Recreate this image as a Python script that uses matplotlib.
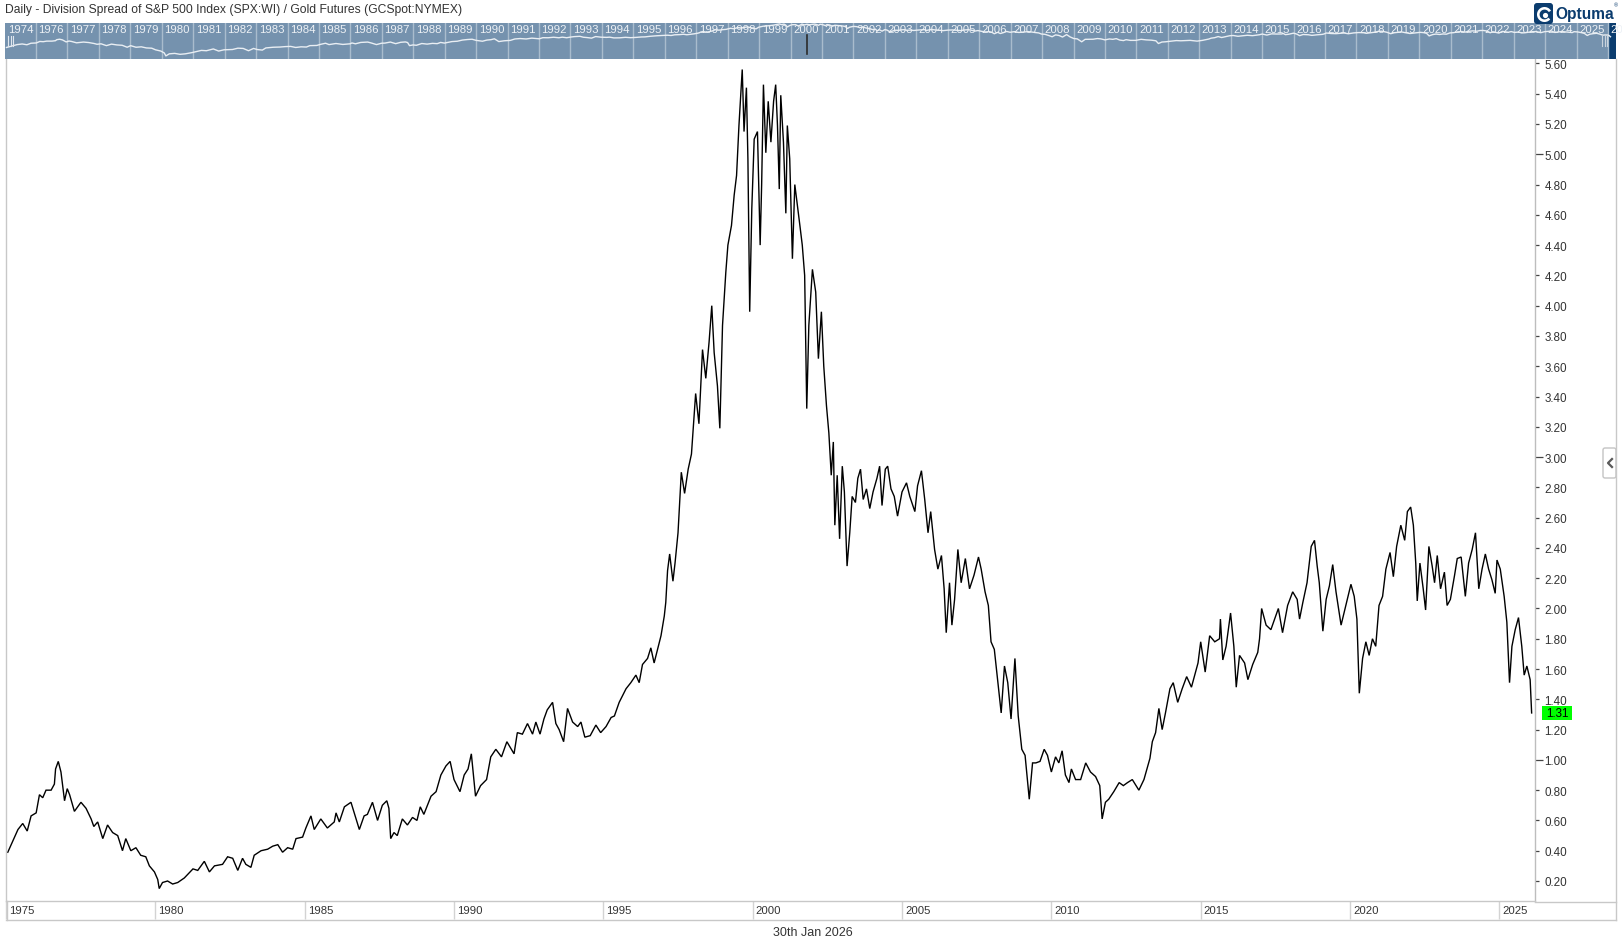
import matplotlib
matplotlib.use("Agg")
import matplotlib.pyplot as plt
from matplotlib.patches import Rectangle, FancyBboxPatch, Wedge, Circle
from matplotlib.lines import Line2D
import matplotlib.transforms as mtransforms

W, H = 1622, 953
plt.rcParams['font.family'] = ['Liberation Sans', 'DejaVu Sans']

title = "Daily - Division Spread of S&P 500 Index (SPX:WI) / Gold Futures (GCSpot:NYMEX)"
date_label = "30th Jan 2026"
last_value = 1.31

# ---- data: (decimal year, SPX / Gold ratio) ----
years = [
    1975.06, 1975.40, 1975.56, 1975.71, 1975.84, 1976.01, 1976.12, 1976.23, 1976.34, 1976.51,
    1976.62, 1976.66, 1976.75, 1976.84, 1976.96, 1977.05, 1977.13, 1977.29, 1977.51, 1977.68,
    1977.85, 1977.94, 1978.07, 1978.24, 1978.40, 1978.57, 1978.74, 1978.90, 1979.01, 1979.18,
    1979.35, 1979.51, 1979.68, 1979.80, 1979.97, 1980.08, 1980.13, 1980.24, 1980.41, 1980.58,
    1980.75, 1980.97, 1981.26, 1981.42, 1981.64, 1981.81, 1981.98, 1982.25, 1982.42, 1982.59,
    1982.76, 1982.92, 1983.03, 1983.20, 1983.31, 1983.54, 1983.76, 1983.93, 1984.10, 1984.26,
    1984.43, 1984.60, 1984.71, 1984.93, 1985.04, 1985.21, 1985.32, 1985.54, 1985.76, 1985.99,
    1986.05, 1986.16, 1986.33, 1986.55, 1986.66, 1986.83, 1986.99, 1987.10, 1987.27, 1987.44,
    1987.60, 1987.75, 1987.82, 1987.88, 1987.99, 1988.10, 1988.27, 1988.44, 1988.61, 1988.76,
    1988.87, 1988.99, 1989.23, 1989.40, 1989.56, 1989.73, 1989.87, 1990.00, 1990.20, 1990.34,
    1990.47, 1990.58, 1990.72, 1990.89, 1991.09, 1991.23, 1991.40, 1991.59, 1991.77, 1992.01,
    1992.12, 1992.29, 1992.46, 1992.63, 1992.74, 1992.88, 1993.01, 1993.12, 1993.30, 1993.41,
    1993.52, 1993.67, 1993.80, 1993.97, 1994.14, 1994.25, 1994.38, 1994.56, 1994.75, 1994.91,
    1995.09, 1995.26, 1995.37, 1995.53, 1995.76, 1995.92, 1996.09, 1996.20, 1996.31, 1996.48,
    1996.59, 1996.70, 1996.79, 1996.93, 1997.04, 1997.09, 1997.15, 1997.22, 1997.33, 1997.40,
    1997.50, 1997.61, 1997.72, 1997.84, 1997.95, 1998.00, 1998.09, 1998.20, 1998.32, 1998.43,
    1998.54, 1998.63, 1998.71, 1998.82, 1998.90, 1998.99, 1999.10, 1999.17, 1999.29, 1999.38,
    1999.46, 1999.54, 1999.65, 1999.71, 1999.79, 1999.84, 1999.90, 1999.97, 2000.05, 2000.16,
    2000.25, 2000.30, 2000.36, 2000.44, 2000.52, 2000.61, 2000.70, 2000.77, 2000.83, 2000.89,
    2000.94, 2001.03, 2001.11, 2001.16, 2001.24, 2001.33, 2001.41, 2001.50, 2001.58, 2001.66,
    2001.74, 2001.81, 2001.88, 2002.00, 2002.11, 2002.20, 2002.30, 2002.38, 2002.47, 2002.55,
    2002.63, 2002.70, 2002.75, 2002.83, 2002.91, 2003.00, 2003.07, 2003.16, 2003.25, 2003.33,
    2003.44, 2003.52, 2003.61, 2003.70, 2003.81, 2003.92, 2004.03, 2004.16, 2004.25, 2004.33,
    2004.44, 2004.52, 2004.63, 2004.74, 2004.85, 2005.00, 2005.15, 2005.26, 2005.43, 2005.52,
    2005.65, 2005.76, 2005.87, 2005.96, 2006.09, 2006.20, 2006.32, 2006.41, 2006.48, 2006.59,
    2006.67, 2006.76, 2006.87, 2006.98, 2007.12, 2007.26, 2007.41, 2007.56, 2007.65, 2007.78,
    2007.89, 2007.98, 2008.09, 2008.21, 2008.32, 2008.43, 2008.54, 2008.65, 2008.78, 2008.89,
    2009.01, 2009.12, 2009.26, 2009.37, 2009.48, 2009.62, 2009.76, 2009.87, 2010.00, 2010.14,
    2010.25, 2010.36, 2010.47, 2010.59, 2010.67, 2010.81, 2010.98, 2011.15, 2011.31, 2011.48,
    2011.62, 2011.70, 2011.81, 2011.92, 2012.09, 2012.27, 2012.41, 2012.55, 2012.71, 2012.93,
    2013.10, 2013.30, 2013.38, 2013.49, 2013.60, 2013.71, 2013.82, 2013.97, 2014.08, 2014.23,
    2014.38, 2014.53, 2014.69, 2014.91, 2015.00, 2015.15, 2015.30, 2015.47, 2015.63, 2015.66,
    2015.74, 2015.85, 2016.00, 2016.11, 2016.19, 2016.30, 2016.47, 2016.58, 2016.74, 2016.91,
    2016.97, 2017.04, 2017.19, 2017.35, 2017.60, 2017.74, 2017.91, 2018.08, 2018.23, 2018.31,
    2018.42, 2018.56, 2018.70, 2018.81, 2018.90, 2018.97, 2019.09, 2019.20, 2019.31, 2019.42,
    2019.53, 2019.70, 2019.86, 2020.03, 2020.14, 2020.23, 2020.31, 2020.42, 2020.53, 2020.64,
    2020.75, 2020.86, 2020.97, 2021.09, 2021.20, 2021.34, 2021.45, 2021.56, 2021.70, 2021.83,
    2021.92, 2022.03, 2022.12, 2022.20, 2022.25, 2022.34, 2022.45, 2022.53, 2022.64, 2022.75,
    2022.83, 2022.92, 2023.03, 2023.16, 2023.25, 2023.36, 2023.50, 2023.59, 2023.72, 2023.86,
    2023.97, 2024.09, 2024.20, 2024.31, 2024.42, 2024.53, 2024.64, 2024.75, 2024.86, 2024.92,
    2025.03, 2025.16, 2025.25, 2025.34, 2025.42, 2025.53, 2025.64, 2025.75, 2025.83, 2025.92,
    2026.03, 2026.08,
]
ratio = [
    0.39, 0.54, 0.58, 0.53, 0.63, 0.65, 0.77, 0.75, 0.80, 0.80,
    0.84, 0.94, 0.99, 0.92, 0.73, 0.81, 0.77, 0.66, 0.72, 0.68,
    0.61, 0.56, 0.59, 0.48, 0.57, 0.52, 0.50, 0.40, 0.48, 0.40,
    0.42, 0.37, 0.36, 0.30, 0.26, 0.21, 0.15, 0.19, 0.20, 0.18,
    0.19, 0.22, 0.28, 0.27, 0.33, 0.26, 0.30, 0.31, 0.36, 0.35,
    0.27, 0.35, 0.31, 0.29, 0.37, 0.40, 0.41, 0.43, 0.44, 0.39,
    0.42, 0.41, 0.48, 0.49, 0.55, 0.63, 0.54, 0.61, 0.55, 0.59,
    0.65, 0.59, 0.69, 0.72, 0.65, 0.54, 0.63, 0.64, 0.72, 0.60,
    0.70, 0.73, 0.68, 0.48, 0.52, 0.50, 0.61, 0.57, 0.62, 0.60,
    0.69, 0.64, 0.76, 0.79, 0.90, 0.96, 0.99, 0.87, 0.79, 0.90,
    0.94, 1.04, 0.76, 0.83, 0.87, 1.02, 1.07, 1.02, 1.12, 1.04,
    1.18, 1.17, 1.24, 1.17, 1.25, 1.17, 1.27, 1.33, 1.38, 1.24,
    1.20, 1.12, 1.34, 1.25, 1.22, 1.25, 1.15, 1.16, 1.23, 1.18,
    1.22, 1.28, 1.29, 1.38, 1.47, 1.51, 1.56, 1.51, 1.63, 1.67,
    1.74, 1.64, 1.71, 1.82, 1.95, 2.04, 2.25, 2.36, 2.18, 2.30,
    2.50, 2.90, 2.76, 2.92, 3.02, 3.16, 3.42, 3.22, 3.71, 3.52,
    3.76, 4.00, 3.69, 3.47, 3.19, 3.87, 4.22, 4.40, 4.53, 4.73,
    4.86, 5.19, 5.56, 5.15, 5.44, 4.97, 3.96, 4.64, 5.10, 5.15,
    4.40, 4.80, 5.46, 5.01, 5.35, 5.08, 5.35, 5.46, 5.19, 4.77,
    5.39, 5.08, 4.61, 5.19, 4.97, 4.31, 4.80, 4.66, 4.53, 4.40,
    4.20, 3.32, 3.87, 4.24, 4.09, 3.65, 3.96, 3.60, 3.34, 3.16,
    2.88, 3.10, 2.55, 2.88, 2.46, 2.94, 2.77, 2.28, 2.50, 2.74,
    2.70, 2.86, 2.92, 2.72, 2.79, 2.66, 2.77, 2.86, 2.94, 2.68,
    2.92, 2.94, 2.79, 2.74, 2.61, 2.77, 2.83, 2.74, 2.64, 2.81,
    2.91, 2.72, 2.50, 2.64, 2.39, 2.26, 2.35, 2.13, 1.84, 2.17,
    1.89, 2.06, 2.39, 2.17, 2.33, 2.13, 2.22, 2.34, 2.26, 2.11,
    2.02, 1.78, 1.73, 1.51, 1.31, 1.62, 1.51, 1.27, 1.67, 1.29,
    1.07, 1.03, 0.74, 0.98, 0.98, 0.99, 1.07, 1.03, 0.92, 1.02,
    0.98, 1.06, 0.90, 0.85, 0.94, 0.87, 0.87, 0.98, 0.92, 0.89,
    0.83, 0.61, 0.72, 0.74, 0.79, 0.85, 0.83, 0.85, 0.87, 0.80,
    0.87, 1.01, 1.12, 1.18, 1.34, 1.20, 1.31, 1.47, 1.51, 1.38,
    1.47, 1.55, 1.48, 1.64, 1.78, 1.58, 1.82, 1.78, 1.80, 1.93,
    1.66, 1.75, 1.97, 1.75, 1.48, 1.69, 1.64, 1.53, 1.63, 1.71,
    1.80, 2.00, 1.89, 1.86, 2.00, 1.84, 2.02, 2.11, 2.06, 1.93,
    2.04, 2.17, 2.41, 2.45, 2.28, 2.17, 1.85, 2.06, 2.15, 2.29,
    2.11, 1.89, 2.02, 2.16, 2.08, 1.93, 1.44, 1.67, 1.78, 1.69,
    1.80, 1.75, 2.02, 2.08, 2.26, 2.37, 2.21, 2.41, 2.55, 2.45,
    2.64, 2.67, 2.55, 2.30, 2.05, 2.30, 2.13, 1.99, 2.41, 2.28,
    2.17, 2.35, 2.13, 2.24, 2.02, 2.06, 2.22, 2.33, 2.34, 2.08,
    2.30, 2.39, 2.50, 2.13, 2.26, 2.36, 2.26, 2.19, 2.10, 2.32,
    2.26, 2.08, 1.91, 1.51, 1.75, 1.86, 1.94, 1.75, 1.56, 1.62,
    1.53, 1.31,
]

x_tick_years = [1975, 1980, 1985, 1990, 1995, 2000, 2005, 2010, 2015, 2020, 2025]
y_major_values = [1.0, 3.0, 5.0]
y_minor_values = [0.2, 0.4, 0.6, 0.8, 1.2, 1.4, 1.6, 1.8, 2.0, 2.2, 2.4, 2.6, 2.8,
                  3.2, 3.4, 3.6, 3.8, 4.0, 4.2, 4.4, 4.6, 4.8, 5.2, 5.4, 5.6]
nav_years = [1974] + list(range(1976, 2026))
nav_last_label = "20"   # the 2026 cell shows only a clipped "20"

TXT = '#333333'
GRID = '#c8c8c8'
NAVY = '#0b3c6e'


def rect(x0, y0, x1, y1):
    return [x0 / W, 1 - y1 / H, (x1 - x0) / W, (y1 - y0) / H]


fig = plt.figure(figsize=(W / 100, H / 100), dpi=100)

bg = fig.add_axes([0, 0, 1, 1])
bg.set_xlim(0, W); bg.set_ylim(H, 0); bg.axis('off'); bg.set_zorder(0)

# ---------------- main axes ----------------
AX_L, AX_T, AX_R, AX_B = 6, 60, 1535, 902
ax = fig.add_axes(rect(AX_L, AX_T, AX_R, AX_B))
ax.set_zorder(2)
PX_PER_YEAR = 29.89
X1980 = 154.3
ax.set_xlim(1980 + (AX_L - X1980) / PX_PER_YEAR, 1980 + (AX_R - X1980) / PX_PER_YEAR)
PX_PER_UNIT = 151.4
Y020 = 882.0
ax.set_ylim(0.2 - (AX_B - Y020) / PX_PER_UNIT, 0.2 + (Y020 - AX_T) / PX_PER_UNIT)

ax.plot(years, ratio, color='black', lw=1.0, solid_joinstyle='miter')

ax.spines['top'].set_visible(False)
ax.spines['left'].set_color(GRID)
ax.spines['bottom'].set_color(GRID)
ax.spines['right'].set_color('#bdbdbd')
for s in ['left', 'bottom', 'right']:
    ax.spines[s].set_linewidth(1.0)

ax.yaxis.tick_right()
ax.set_yticks(y_major_values)
ax.set_yticklabels([f"{v:.2f}" for v in y_major_values])
ax.set_yticks(y_minor_values, minor=True)
ax.set_yticklabels([f"{v:.2f}" for v in y_minor_values], minor=True)
ax.tick_params(axis='y', which='major', length=5.5, width=0.9, color='#444444', pad=1.2,
               labelsize=8.4, labelcolor=TXT)
ax.tick_params(axis='y', which='minor', length=2.7, width=0.9, color='#444444', pad=4.0,
               labelsize=8.4, labelcolor=TXT)

ax.set_xticks(x_tick_years)
ax.set_xticklabels([])
ax.tick_params(axis='x', which='major', length=13, width=1.0, color='#d3d3d3', direction='out')
ax.xaxis.set_minor_locator(matplotlib.ticker.NullLocator())

ax_h = AX_B - AX_T
lbl_tr = ax.get_xaxis_transform() + mtransforms.ScaledTranslation(3 / 100, 0, fig.dpi_scale_trans)
for yr in x_tick_years:
    ax.text(yr, -9.5 / ax_h, str(yr), transform=lbl_tr, ha='left', va='center',
            fontsize=8.2, color=TXT, clip_on=False)

# last value badge
bw0 = (1542 - AX_R) / (AX_R - AX_L)
bw1 = (1572 - AX_R) / (AX_R - AX_L)
bh = 14 / PX_PER_UNIT
badge_tr = mtransforms.blended_transform_factory(ax.transAxes, ax.transData)
ax.add_patch(Rectangle((1 + bw0, last_value - bh / 2), bw1 - bw0, bh, transform=badge_tr,
                       facecolor='#00ff00', edgecolor='none', clip_on=False, zorder=5))
ax.text(1 + (bw0 + bw1) / 2, last_value, f"{last_value:.2f}", transform=badge_tr,
        ha='center', va='center', fontsize=8.4, color='black', clip_on=False, zorder=6)

# ---------------- navigator ----------------
NAV_L, NAV_T, NAV_R, NAV_B = 5, 24, 1616, 60
nav = fig.add_axes(rect(NAV_L, NAV_T, NAV_R, NAV_B))
nav.set_zorder(3)
NAV_X1976 = 36.0
NAV_PX = 31.44
nav_x0 = 1976 + (NAV_L - NAV_X1976) / NAV_PX
nav_x1 = 1976 + (NAV_R - NAV_X1976) / NAV_PX
nav.set_xlim(nav_x0, nav_x1)
nav.set_yscale('log')
nav.set_ylim(0.106, 6.2)
nav.set_facecolor('#7592ae')
for s in nav.spines.values():
    s.set_visible(False)
nav.set_xticks([]); nav.set_yticks([]); nav.set_yticks([], minor=True)
nav.axvspan(2026, nav_x1, color=NAVY, lw=0)
for yr in list(range(1976, 2027)):
    nav.axvline(yr, color='#a9bccd', lw=1.0)
nav.plot(years, ratio, color='#e9eef3', lw=1.0)
ntr = nav.get_xaxis_transform()
for yr in nav_years:
    xpos = (1975.1 if yr == 1974 else yr + 0.08)
    nav.text(xpos, 0.82, str(yr), transform=ntr, ha='left', va='center',
             fontsize=8.2, color='#edf1f5')
nav.text(2026.08, 0.82, nav_last_label, transform=ntr, ha='left', va='center',
         fontsize=8.2, color='#edf1f5')
nav.plot([2000.51, 2000.51], [(NAV_B - 55) / 36, (NAV_B - 36) / 36], transform=ntr,
         color='#2b2b2b', lw=1.2)
for gx in [1975.12, 1975.19, 1975.26]:
    nav.plot([gx, gx], [0.36, 0.64], transform=ntr, color='#dfe6ee', lw=0.8)
for gx in [2025.82, 2025.89, 2025.96]:
    nav.plot([gx, gx], [0.36, 0.70], transform=ntr, color='#c9d3dd', lw=0.8)

# ---------------- foreground overlay ----------------
fg = fig.add_axes([0, 0, 1, 1])
fg.set_xlim(0, W); fg.set_ylim(H, 0); fg.axis('off'); fg.set_zorder(4)
fg.patch.set_alpha(0)


def hline(y, x0, x1, c=GRID):
    fg.add_line(Line2D([x0, x1], [y, y], color=c, lw=1.0))


def vline(x, y0, y1, c=GRID):
    fg.add_line(Line2D([x, x], [y0, y1], color=c, lw=1.0))


hline(AX_B + 0.5, AX_R, 1616)
hline(920.5, AX_L, 1616)
vline(1616, NAV_B, 920.5)
vline(AX_L + 0.5, AX_B, 920.5)

fg.text(5, 10, title, ha='left', va='center', fontsize=8.7, color=TXT)
fg.text(813, 933, date_label, ha='center', va='center', fontsize=9, color=TXT)

# Optuma logo
fg.add_patch(FancyBboxPatch((1534, 4), 19, 21, boxstyle="round,pad=0,rounding_size=3",
                            facecolor=NAVY, edgecolor='none'))
fg.add_patch(Wedge((1544.5, 15.5), 7.5, 40, 330, width=2.6, facecolor='white', edgecolor='none'))
fg.add_patch(Circle((1545.5, 16.5), 2.6, facecolor='white', edgecolor='none'))
fg.text(1555, 14.5, "Optuma", ha='left', va='center', fontsize=11.2, fontweight='bold',
        color=NAVY)
fg.text(1614, 6, "®", ha='left', va='center', fontsize=4, color=NAVY)

# collapse tab
fg.add_patch(FancyBboxPatch((1603, 449), 13, 30, boxstyle="round,pad=0,rounding_size=2",
                            facecolor='white', edgecolor='#c4c4c4', lw=1.0))
fg.add_line(Line2D([1612, 1608, 1612], [460, 464, 468], color='#5a5a5a', lw=1.6))

fig.savefig("out.png", dpi=100)
